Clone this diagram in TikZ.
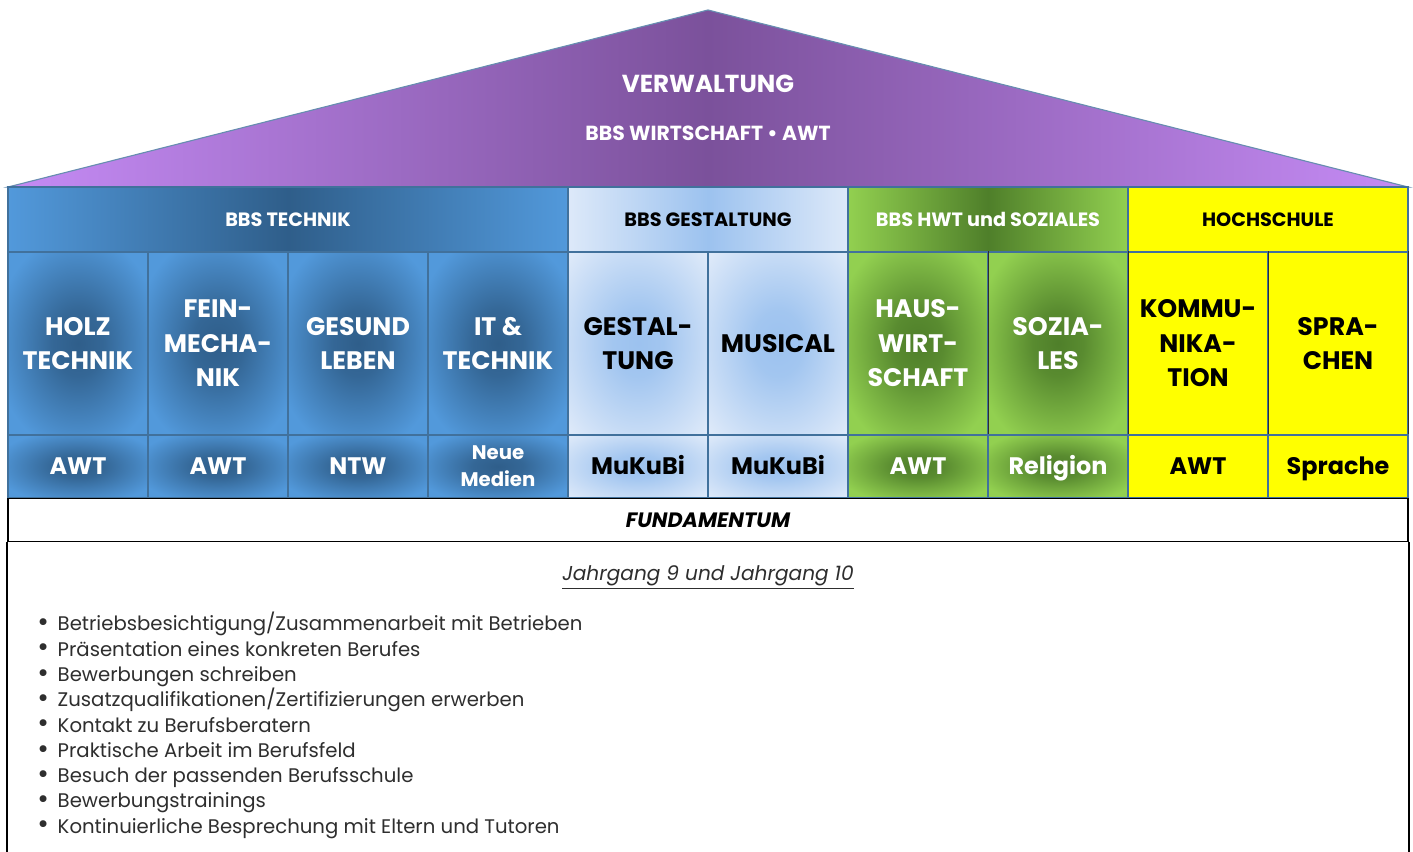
\documentclass[tikz,border=0pt]{standalone}
\usepackage{xcolor}
\usepackage{fontspec}
\setmainfont{Poppins}
\usepackage{tikz}

\definecolor{techblau}{HTML}{5299DB}
\definecolor{techdunkel}{HTML}{2F5E8A}
\definecolor{gestblass}{HTML}{DDE9F9}
\definecolor{gestblau}{HTML}{9CC2EF}
\definecolor{hwtgruen}{HTML}{92D050}
\definecolor{hwtdunkel}{HTML}{4F7F2A}
\definecolor{hochgelb}{HTML}{FFFF00}
\definecolor{dachhell}{HTML}{C58BF5}
\definecolor{dachdunkel}{HTML}{7B519B}
\definecolor{rahmen}{HTML}{41719C}
\definecolor{textgrau}{HTML}{2E2E2E}

\pgfdeclareradialshading{blaufleck}{\pgfpointorigin}{color(0bp)=(techdunkel); color(9bp)=(techdunkel!85!techblau); color(30bp)=(techblau); color(50bp)=(techblau)}
\pgfdeclareradialshading{hellfleck}{\pgfpointorigin}{color(0bp)=(gestblau); color(9bp)=(gestblau!90!gestblass); color(34bp)=(gestblass); color(50bp)=(gestblass)}
\pgfdeclareradialshading{gruenfleck}{\pgfpointorigin}{color(0bp)=(hwtdunkel); color(9bp)=(hwtdunkel!85!hwtgruen); color(30bp)=(hwtgruen); color(50bp)=(hwtgruen)}

\begin{document}
\begin{tikzpicture}[every node/.style={inner sep=0pt, align=center},
  kopf/.style={rectangle, minimum width=7cm, minimum height=1.625cm, draw=rahmen, line width=1pt, font=\fontsize{13.7}{16}\selectfont\bfseries},
  zelle/.style={rectangle, minimum width=3.5cm, minimum height=4.575cm, draw=rahmen, line width=1pt, font=\fontsize{18}{24.5}\selectfont\bfseries},
  fach/.style={rectangle, minimum width=3.5cm, minimum height=1.575cm, draw=rahmen, line width=1pt, text height=16pt, text depth=4pt, font=\fontsize{17}{20}\selectfont\bfseries},
  fachklein/.style={rectangle, minimum width=3.5cm, minimum height=1.575cm, draw=rahmen, line width=1pt, font=\fontsize{14}{19}\selectfont\bfseries},
  blau/.style={shade, shading=blaufleck, text=white},
  hell/.style={shade, shading=hellfleck, text=black},
  gruen/.style={shade, shading=gruenfleck, text=white},
  gelb/.style={fill=hochgelb, text=black}]
\useasboundingbox (0,0) rectangle (35.325,-21.3);

% Dach
\shade[left color=dachhell, right color=dachhell, middle color=dachdunkel, draw=rahmen!80, line width=0.8pt]
  (0.2,-4.675) -- (17.7,-0.25) -- (35.2,-4.675) -- cycle;
\node[text=white, font=\fontsize{17.5}{22}\selectfont\bfseries] (verwaltung) at (17.7,-2.1) {VERWALTUNG};
\node[text=white, font=\fontsize{14.5}{18}\selectfont\bfseries] (wirtschaft) at (17.7,-3.325) {BBS WIRTSCHAFT • AWT};

% Schulen
\node[kopf, minimum width=14cm, left color=techblau, right color=techblau, middle color=techdunkel, text=white] (technik) at (7.2,-5.4875) {BBS TECHNIK};
\node[kopf, left color=gestblass, right color=gestblass, middle color=gestblau] (gestaltung) at (17.7,-5.4875) {BBS GESTALTUNG};
\node[kopf, left color=hwtgruen, right color=hwtgruen, middle color=hwtdunkel, text=white] (hwt) at (24.7,-5.4875) {BBS HWT und SOZIALES};
\node[kopf, gelb] (hochschule) at (31.7,-5.4875) {HOCHSCHULE};

% Profile
\node[zelle, blau] (holz) at (1.95,-8.5875) {HOLZ\\TECHNIK};
\node[zelle, blau] (fein) at (5.45,-8.5875) {FEIN-\\MECHA-\\NIK};
\node[zelle, blau] (gesund) at (8.95,-8.5875) {GESUND\\LEBEN};
\node[zelle, blau] (it) at (12.45,-8.5875) {IT \&\\TECHNIK};
\node[zelle, hell] (gestal) at (15.95,-8.5875) {GESTAL-\\TUNG};
\node[zelle, hell] (musical) at (19.45,-8.5875) {MUSICAL};
\node[zelle, gruen] (haus) at (22.95,-8.5875) {HAUS-\\WIRT-\\SCHAFT};
\node[zelle, gruen] (sozial) at (26.45,-8.5875) {SOZIA-\\LES};
\node[zelle, gelb] (kommu) at (29.95,-8.5875) {KOMMU-\\NIKA-\\TION};
\node[zelle, gelb] (sprach) at (33.45,-8.5875) {SPRA-\\CHEN};

\draw[textgrau, line width=1pt] (haus.north east) -- (haus.south east);
\draw[textgrau, line width=1pt] (sozial.north east) -- (sozial.south east);
\draw[textgrau, line width=1pt] (kommu.north east) -- (kommu.south east);
\draw[textgrau, line width=1pt] (sprach.north east) -- (sprach.south east);

% Faecher
\node[fach, blau] (holzfach) at (1.95,-11.6625) {AWT};
\node[fach, blau] (feinfach) at (5.45,-11.6625) {AWT};
\node[fach, blau] (gesundfach) at (8.95,-11.6625) {NTW};
\node[fachklein, blau] (itfach) at (12.45,-11.6625) {Neue\\Medien};
\node[fach, hell] (gestalfach) at (15.95,-11.6625) {MuKuBi};
\node[fach, hell] (musicalfach) at (19.45,-11.6625) {MuKuBi};
\node[fach, gruen] (hausfach) at (22.95,-11.6625) {AWT};
\node[fach, gruen] (sozialfach) at (26.45,-11.6625) {Religion};
\node[fach, gelb] (kommufach) at (29.95,-11.6625) {AWT};
\node[fach, gelb] (sprachfach) at (33.45,-11.6625) {Sprache};

% Fundament
\node[draw=black, line width=1.3pt, fill=white, minimum width=35cm, minimum height=1.075cm,
  font=\fontsize{14.8}{17}\selectfont\bfseries\itshape] (fundament) at (17.7,-13.0) {\raisebox{-1.4pt}{FUNDAMENTUM}};
\draw[line width=1.3pt] (fundament.south west) -- ++(0,-8.5);
\draw[line width=1.3pt] (fundament.south east) -- ++(0,-8.5);

\node[text=textgrau, font=\fontsize{14.3}{17}\selectfont\itshape] (jahr) at (17.7,-14.43) {\underline{Jahrgang 9 und Jahrgang 10}};
\node[text=textgrau, anchor=north west, align=left, font=\fontsize{14}{18}\selectfont] (liste) at (0.925,-15.3) {%
\raisebox{-0.5pt}{\fontsize{20}{18}\selectfont\textbullet}\hspace{0.45em}Betriebsbesichtigung/Zusammenarbeit mit Betrieben\\
\raisebox{-0.5pt}{\fontsize{20}{18}\selectfont\textbullet}\hspace{0.45em}Präsentation eines konkreten Berufes\\
\raisebox{-0.5pt}{\fontsize{20}{18}\selectfont\textbullet}\hspace{0.45em}Bewerbungen schreiben\\
\raisebox{-0.5pt}{\fontsize{20}{18}\selectfont\textbullet}\hspace{0.45em}Zusatzqualifikationen/Zertifizierungen erwerben\\
\raisebox{-0.5pt}{\fontsize{20}{18}\selectfont\textbullet}\hspace{0.45em}Kontakt zu Berufsberatern\\
\raisebox{-0.5pt}{\fontsize{20}{18}\selectfont\textbullet}\hspace{0.45em}Praktische Arbeit im Berufsfeld\\
\raisebox{-0.5pt}{\fontsize{20}{18}\selectfont\textbullet}\hspace{0.45em}Besuch der passenden Berufsschule\\
\raisebox{-0.5pt}{\fontsize{20}{18}\selectfont\textbullet}\hspace{0.45em}Bewerbungstrainings\\
\raisebox{-0.5pt}{\fontsize{20}{18}\selectfont\textbullet}\hspace{0.45em}Kontinuierliche Besprechung mit Eltern und Tutoren};
\end{tikzpicture}
\end{document}
